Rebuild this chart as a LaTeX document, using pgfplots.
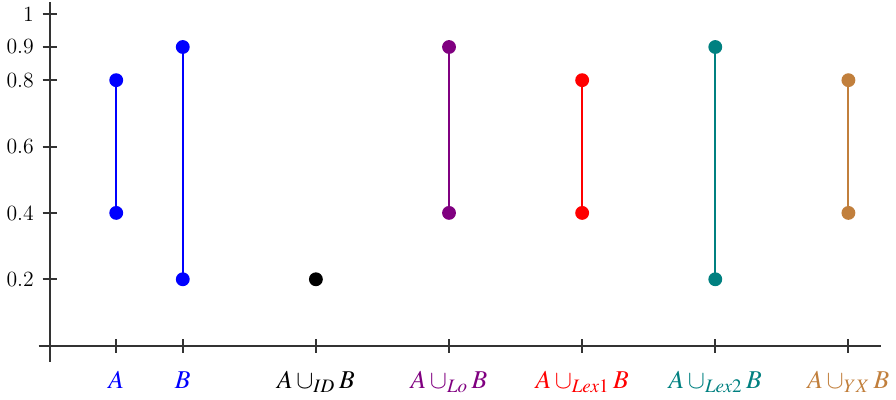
\documentclass[border=0pt]{standalone}
\usepackage{mathptmx}
\usepackage{pgfplots}
\pgfplotsset{compat=1.18}
\definecolor{cpurple}{RGB}{128,0,128}
\definecolor{cteal}{RGB}{0,128,128}
\definecolor{cbrown}{RGB}{193,127,60}
\begin{document}
\begin{tikzpicture}
\begin{axis}[
    axis lines=middle,
    axis line style={-, black!80, line width=1pt},
    x=33.7pt, y=168pt,
    xmin=-0.165, xmax=12.49,
    ymin=-0.048, ymax=1.035,
    xtick={1,2,4,6,8,10,12},
    xticklabels={
        \textcolor{blue}{$A$},
        \textcolor{blue}{$B$},
        \textcolor{black}{$A\cup_{ID} B$},
        \textcolor{cpurple}{$A\cup_{Lo} B$},
        \textcolor{red}{$A\cup_{Lex1} B$},
        \textcolor{cteal}{$A\cup_{Lex2} B$},
        \textcolor{cbrown}{$A\cup_{YX} B$}},
    ytick={0.2,0.4,0.6,0.8,0.9,1},
    yticklabels={0.2,0.4,0.6,0.8,0.9,1},
    /pgf/number format/assume math mode=true,
    tick align=center,
    major tick length=7pt,
    tick style={black!80, line width=1pt},
    x tick label style={font=\fontsize{13}{15}\selectfont, yshift=-6pt},
    y tick label style={font=\fontsize{11}{13}\selectfont, xshift=-1pt},
    clip=false,
]
\addplot[blue, line width=1pt, mark=*, mark size=3pt, mark options={fill=blue}] coordinates {(1,0.4) (1,0.8)};
\addplot[blue, line width=1pt, mark=*, mark size=3pt, mark options={fill=blue}] coordinates {(2,0.2) (2,0.9)};
\addplot[black, line width=1pt, mark=*, mark size=3pt, mark options={fill=black}] coordinates {(4,0.2)};
\addplot[cpurple, line width=1pt, mark=*, mark size=3pt, mark options={fill=cpurple}] coordinates {(6,0.4) (6,0.9)};
\addplot[red, line width=1pt, mark=*, mark size=3pt, mark options={fill=red}] coordinates {(8,0.4) (8,0.8)};
\addplot[cteal, line width=1pt, mark=*, mark size=3pt, mark options={fill=cteal}] coordinates {(10,0.2) (10,0.9)};
\addplot[cbrown, line width=1pt, mark=*, mark size=3pt, mark options={fill=cbrown}] coordinates {(12,0.4) (12,0.8)};
\end{axis}
\end{tikzpicture}
\end{document}
